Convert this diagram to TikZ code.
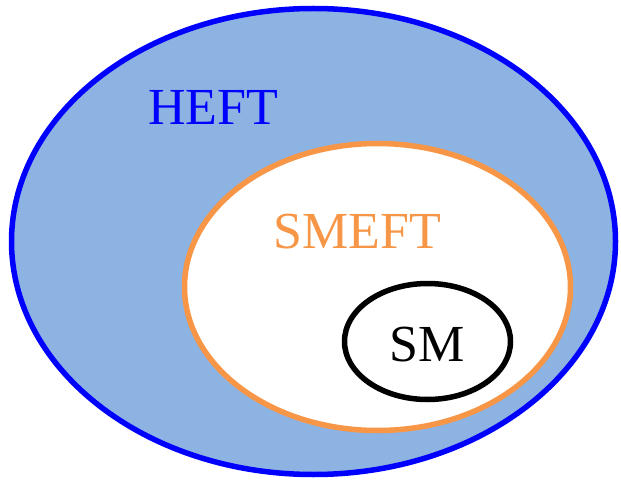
\documentclass[tikz,border=0pt]{standalone}
\usepackage{fontspec}
\setmainfont{Liberation Serif}
\definecolor{heftfill}{HTML}{8DB3E2}
\definecolor{smeftor}{HTML}{F79646}
\begin{document}
\begin{tikzpicture}[x=1pt,y=-1pt,
  lbl/.style={font=\fontsize{52}{60}\selectfont, inner sep=0pt, anchor=center},
  ring/.style={line width=5.5pt}]
\useasboundingbox (0,0) rectangle (621,481);
\draw[ring, blue, fill=heftfill] (313.5,241.5) ellipse [x radius=302, y radius=233];
\draw[ring, smeftor, fill=white] (377.5,287) ellipse [x radius=193, y radius=143.5];
\draw[ring, black, fill=white] (427.5,341.5) ellipse [x radius=83, y radius=58];
\node[lbl, text=blue] (heft) at (213,107) {HEFT};
\node[lbl, text=smeftor] (smeft) at (357,232) {SMEFT};
\node[lbl, text=black] (sm) at (427,345) {SM};
\end{tikzpicture}
\end{document}
